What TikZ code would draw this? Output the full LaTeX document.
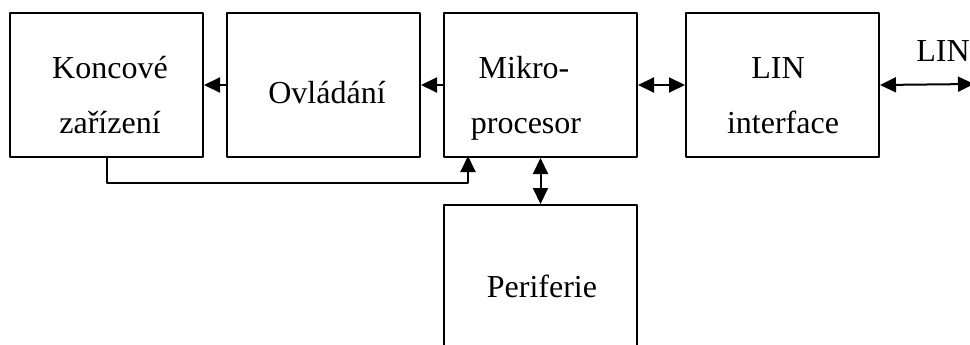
\documentclass[tikz,border=0pt]{standalone}
\usepackage{fontspec}
\setmainfont{Liberation Serif}
\usetikzlibrary{arrows.meta}
\tikzset{
	blok/.style={draw, line width=2pt, minimum width=193pt, minimum height=144pt, anchor=north west, inner sep=0pt},
	popis/.style={anchor=base, inner sep=0pt, font=\fontsize{32}{38}\selectfont},
	sip/.style={line width=2pt, -{Triangle[length=16pt,width=15pt]}},
	dvojsip/.style={line width=2pt, {Triangle[length=16pt,width=15pt]}-{Triangle[length=16pt,width=15pt]}}
}
\begin{document}
\begin{tikzpicture}[x=1pt,y=-1pt,line join=round]
	\clip (0,0) rectangle (970,345);
	% bloky
	\node[blok] (kon) at (9,12) {};
	\node[blok] (ovl) at (226,12) {};
	\node[blok] (mik) at (443,12) {};
	\node[blok] (lin) at (685,12) {};
	\node[blok, minimum height=200pt] (per) at (443,204) {};
	% texty
	\node[popis] (kon1) at (110,79) {Koncové};
	\node[popis] (kon2) at (110,133) {zařízení};
	\node[popis] (ovl1) at (327,103) {Ovládání};
	\node[popis] (mik1) at (524,78) {Mikro-};
	\node[popis] (mik2) at (526,133) {procesor};
	\node[popis] (lin1) at (778,78) {LIN};
	\node[popis] (lin2) at (783,133) {interface};
	\node[popis] (per1) at (542,297) {Periferie};
	\node[popis] (bus) at (943,62) {LIN};
	% spoje
	\coordinate (vstup) at (468,156);
	\coordinate (sbernice) at (974,84);
	\draw[sip] (ovl.west) -- (kon.east);
	\draw[sip] (mik.west) -- (ovl.east);
	\draw[dvojsip] (mik.east) -- (lin.west);
	\draw[dvojsip] (lin.east) -- (sbernice);
	\draw[dvojsip] (mik.south) -- (per.north);
	\draw[sip] (kon.south) -- ++(0,25) -| (vstup);
\end{tikzpicture}
\end{document}
